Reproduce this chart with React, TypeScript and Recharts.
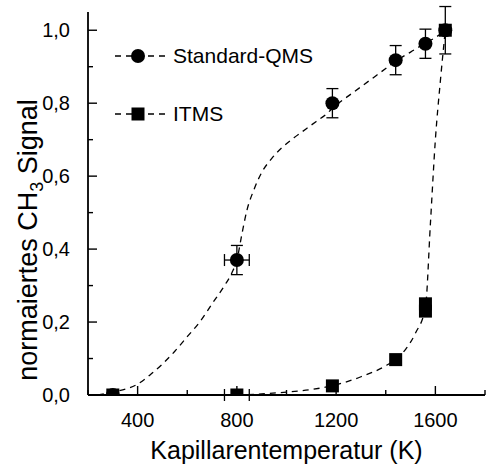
import { ComposedChart, Line, Scatter, XAxis, YAxis, ErrorBar } from "recharts";

const FONT = '"Liberation Sans", Arial, sans-serif';

// measured points (temperature in K, normalised signal)
const qmsTemp = [300, 800, 1185, 1440, 1560, 1640];
const qmsSignal = [0.0, 0.37, 0.8, 0.918, 0.963, 1.0];
const qmsErrSignal = [0, 0.04, 0.04, 0.04, 0.04, 0];
const qmsErrTemp = [0, 50, 0, 0, 0, 0];

const itmsTemp = [300, 800, 1185, 1440, 1560, 1560, 1640];
const itmsSignal = [0.0, 0.0, 0.025, 0.097, 0.23, 0.25, 1.0];
const itmsErrSignal = [0, 0, 0, 0, 0, 0, 0.065];
const itmsErrTemp = [0, 50, 0, 0, 0, 0, 0];

// dashed guide curves
const qmsCurveT = [240, 300, 400, 450, 500, 550, 600, 650, 700, 750, 780, 800, 820, 840, 870, 900, 940, 980, 1030, 1080, 1120, 1160, 1200, 1250, 1300, 1350, 1400, 1450, 1500, 1560, 1600, 1640];
const qmsCurveS = [0.0, 0.008, 0.03, 0.055, 0.085, 0.12, 0.16, 0.2, 0.25, 0.3, 0.335, 0.37, 0.44, 0.505, 0.565, 0.61, 0.648, 0.677, 0.705, 0.73, 0.75, 0.77, 0.795, 0.82, 0.845, 0.87, 0.895, 0.92, 0.94, 0.965, 0.98, 1.0];

const itmsCurveT = [800, 900, 1000, 1100, 1200, 1300, 1400, 1440, 1480, 1520, 1560, 1580, 1600, 1620, 1640];
const itmsCurveS = [0.0, 0.003, 0.008, 0.015, 0.028, 0.05, 0.08, 0.098, 0.125, 0.17, 0.24, 0.47, 0.7, 0.86, 1.0];

const xTicks = [200, 400, 600, 800, 1000, 1200, 1400, 1600, 1800];
const xMajor = [400, 800, 1200, 1600];
const yTicks = [0, 0.1, 0.2, 0.3, 0.4, 0.5, 0.6, 0.7, 0.8, 0.9, 1.0];

const qmsData = qmsTemp.map((t, i) => ({ x: t, y: qmsSignal[i], ey: qmsErrSignal[i], ex: qmsErrTemp[i] }));
const itmsData = itmsTemp.map((t, i) => ({ x: t, y: itmsSignal[i], ey: itmsErrSignal[i], ex: itmsErrTemp[i] }));
const qmsCurve = qmsCurveT.map((t, i) => ({ x: t, y: qmsCurveS[i] }));
const itmsCurve = itmsCurveT.map((t, i) => ({ x: t, y: itmsCurveS[i] }));

const isMajorY = (v: number) => Math.round(v * 10) % 2 === 0;

const BottomTick = (props: any) => {
  const { x, y, payload } = props;
  const major = xMajor.includes(payload.value);
  return (
    <g>
      <line x1={x} x2={x} y1={y} y2={y - (major ? 9 : 5)} stroke="#000" strokeWidth={1.4} />
      {major && (
        <text x={x} y={y + 32} textAnchor="middle" fontSize={20} fontFamily={FONT} fill="#000">
          {payload.value}
        </text>
      )}
    </g>
  );
};

const TopTick = (props: any) => {
  const { x, y, payload } = props;
  const major = xMajor.includes(payload.value);
  return <line x1={x} x2={x} y1={y} y2={y + (major ? 9 : 5)} stroke="#000" strokeWidth={1.4} />;
};

const LeftTick = (props: any) => {
  const { x, y, payload } = props;
  const major = isMajorY(payload.value);
  return (
    <g>
      <line x1={x} x2={x + (major ? 9 : 5)} y1={y} y2={y} stroke="#000" strokeWidth={1.4} />
      {major && (
        <text x={x - 18} y={y} dy="0.36em" textAnchor="end" fontSize={20} fontFamily={FONT} fill="#000">
          {payload.value.toFixed(1).replace(".", ",")}
        </text>
      )}
    </g>
  );
};

const RightTick = (props: any) => {
  const { x, y, payload } = props;
  const major = isMajorY(payload.value);
  return <line x1={x} x2={x - (major ? 9 : 5)} y1={y} y2={y} stroke="#000" strokeWidth={1.4} />;
};

const Dot = (props: any) => <circle cx={props.cx} cy={props.cy} r={7} fill="#000" />;
const Box = (props: any) => <rect x={props.cx - 6.5} y={props.cy - 6.5} width={13} height={13} fill="#000" />;

const axisLine = { stroke: "#000", strokeWidth: 1.8 };

export default function App() {
  return (
    <div style={{ position: "absolute", left: 0, top: 0, width: 486, height: 468, background: "#fff" }}>
      <ComposedChart width={486} height={468} margin={{ top: 12, right: 1, bottom: 0, left: 0 }}>
        <XAxis
          dataKey="x"
          type="number"
          domain={[200, 1800]}
          ticks={xTicks}
          interval={0}
          height={73}
          tickSize={0}
          tickMargin={0}
          tickLine={false}
          axisLine={axisLine}
          tick={<BottomTick />}
          allowDataOverflow
          label={{ value: "Kapillarentemperatur (K)", position: "insideBottom", offset: 9, fontSize: 25, fontFamily: FONT, fill: "#000" }}
        />
        <XAxis
          xAxisId="top"
          orientation="top"
          dataKey="x"
          type="number"
          domain={[200, 1800]}
          ticks={xTicks}
          interval={0}
          height={0}
          tickSize={0}
          tickMargin={0}
          tickLine={false}
          axisLine={axisLine}
          tick={<TopTick />}
          allowDataOverflow
        />
        <YAxis
          type="number"
          domain={[0, 1.05]}
          ticks={yTicks}
          interval={0}
          width={88}
          tickSize={0}
          tickMargin={0}
          tickLine={false}
          axisLine={axisLine}
          tick={<LeftTick />}
          allowDataOverflow
        />
        <YAxis
          yAxisId="right"
          orientation="right"
          type="number"
          domain={[0, 1.05]}
          ticks={yTicks}
          interval={0}
          width={0}
          tickSize={0}
          tickMargin={0}
          tickLine={false}
          axisLine={axisLine}
          tick={<RightTick />}
          allowDataOverflow
        />
        <Line data={qmsCurve} dataKey="y" type="monotone" stroke="#000" strokeWidth={1.3} strokeDasharray="6 5" dot={false} isAnimationActive={false} />
        <Line data={itmsCurve} dataKey="y" type="monotone" stroke="#000" strokeWidth={1.3} strokeDasharray="6 5" dot={false} isAnimationActive={false} />
        <Scatter data={qmsData} dataKey="y" shape={<Dot />} isAnimationActive={false}>
          <ErrorBar dataKey="ey" direction="y" width={6} stroke="#000" strokeWidth={1.3} />
          <ErrorBar dataKey="ex" direction="x" width={6} stroke="#000" strokeWidth={1.3} />
        </Scatter>
        <Scatter data={itmsData} dataKey="y" shape={<Box />} isAnimationActive={false}>
          <ErrorBar dataKey="ey" direction="y" width={6} stroke="#000" strokeWidth={1.3} />
          <ErrorBar dataKey="ex" direction="x" width={6} stroke="#000" strokeWidth={1.3} />
        </Scatter>
      </ComposedChart>
      <svg width={486} height={468} style={{ position: "absolute", left: 0, top: 0, pointerEvents: "none" }}>
        <line x1={115} x2={168} y1={56} y2={56} stroke="#000" strokeWidth={1.3} strokeDasharray="6 5" />
        <circle cx={138} cy={56} r={7} fill="#000" />
        <text x={173} y={63} fontSize={21} fontFamily={FONT} fill="#000">Standard-QMS</text>
        <line x1={115} x2={168} y1={114} y2={114} stroke="#000" strokeWidth={1.3} strokeDasharray="6 5" />
        <rect x={131.5} y={107.5} width={13} height={13} fill="#000" />
        <text x={173} y={121} fontSize={21} fontFamily={FONT} fill="#000">ITMS</text>
        <text transform="translate(37,240) rotate(-90)" textAnchor="middle" fontSize={27} fontFamily={FONT} fill="#000">
          normaiertes CH<tspan fontSize={18} dy={6}>3</tspan>
          <tspan dy={-6}> Signal</tspan>
        </text>
      </svg>
    </div>
  );
}
